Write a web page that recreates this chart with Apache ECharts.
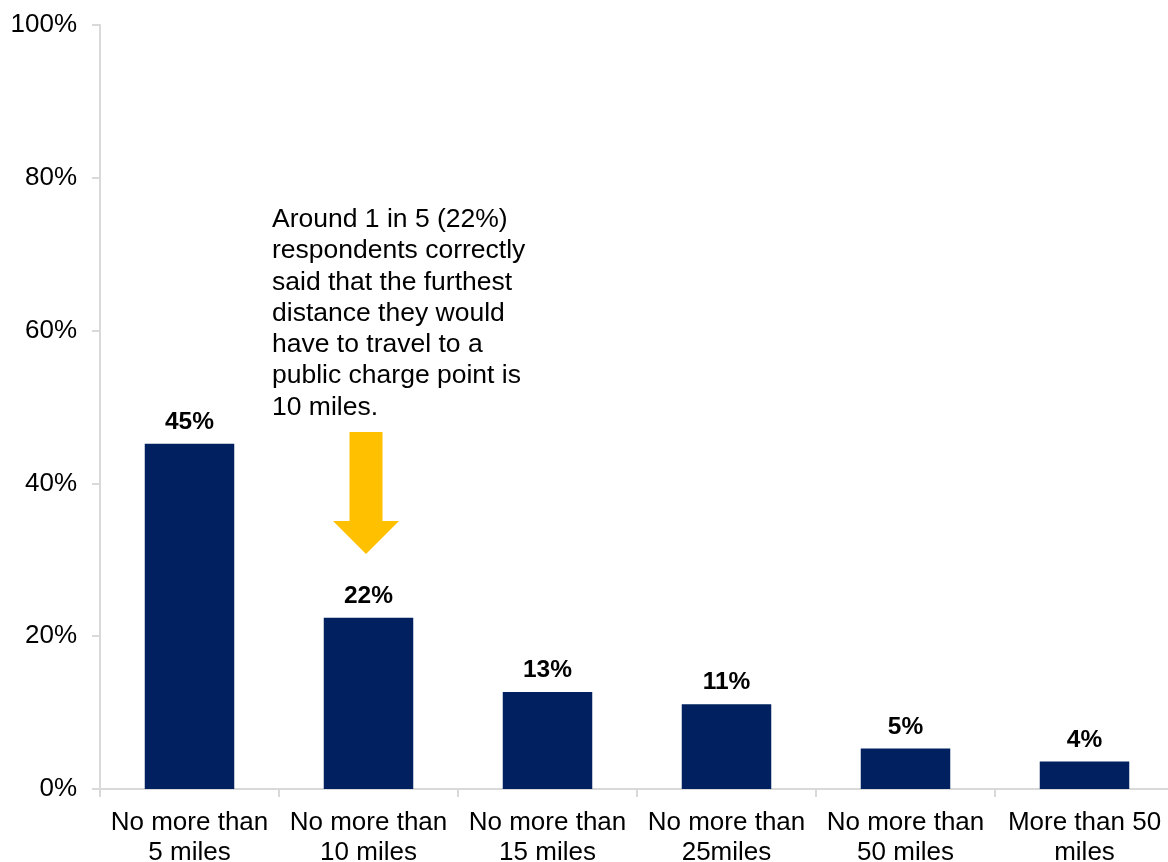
<!DOCTYPE html>
<html>
<head>
<meta charset="utf-8">
<script src="https://cdn.jsdelivr.net/npm/echarts@6/dist/echarts.min.js"></script>
<style>
  html, body { margin: 0; padding: 0; background: #fff; }
  #chart { width: 1168px; height: 862px; }
</style>
</head>
<body>
<div id="chart"></div>
<script>
// categories and values
const categories = [
  'No more than\n5 miles',
  'No more than\n10 miles',
  'No more than\n15 miles',
  'No more than\n25miles',
  'No more than\n50 miles',
  'More than 50\nmiles'
]
const shares = [45.2, 22.4, 12.7, 11.1, 5.3, 3.6]
const yTicks = [0, 20, 40, 60, 80, 100]

const annotation = [
  'Around 1 in 5 (22%)',
  'respondents correctly',
  'said that the furthest',
  'distance they would',
  'have to travel to a',
  'public charge point is',
  '10 miles.'
].join('\n')

const font = 'Arial, "Liberation Sans", sans-serif'
const axisGrey = '#d9d9d9'

const chart = echarts.init(document.getElementById('chart'))

// 注释箭头（黄色）
const arrowX = 366
const arrow = {
  type: 'polygon',
  shape: {
    points: [
      [arrowX - 16.5, 432], [arrowX + 16.5, 432], [arrowX + 16.5, 521],
      [arrowX + 33, 521], [arrowX, 554], [arrowX - 33, 521], [arrowX - 16.5, 521]
    ]
  },
  style: { fill: '#FFC000' }
}

chart.setOption({
  animation: false,
  textStyle: { fontFamily: font },
  grid: {
    left: 100, top: 25, width: 1074, height: 764,
    containLabel: false,
    outerBoundsMode: 'none'
  },
  xAxis: {
    type: 'category',
    data: categories,
    axisLine: { lineStyle: { color: axisGrey, width: 2 } },
    axisTick: { show: true, alignWithLabel: false, length: 8, lineStyle: { color: axisGrey, width: 2 } },
    axisLabel: {
      interval: 0,
      color: '#000',
      fontSize: 26,
      lineHeight: 30,
      margin: 19,
      fontFamily: font
    }
  },
  yAxis: {
    type: 'value',
    min: yTicks[0],
    max: yTicks[yTicks.length - 1],
    interval: 20,
    splitLine: { show: false },
    axisLine: { show: true, lineStyle: { color: axisGrey, width: 2 } },
    axisTick: { show: true, length: 8, lineStyle: { color: axisGrey, width: 2 } },
    axisLabel: {
      color: '#000',
      fontSize: 26,
      margin: 23,
      fontFamily: font,
      formatter: (v) => v + '%'
    }
  },
  series: [
    {
      type: 'bar',
      data: shares,
      barWidth: '50%',
      itemStyle: { color: '#002060' },
      label: {
        show: true,
        position: 'top',
        distance: 9,
        color: '#000',
        fontSize: 24.5,
        fontWeight: 'bold',
        fontFamily: font,
        formatter: (p) => Math.round(p.value) + '%'
      }
    }
  ],
  graphic: [
    {
      type: 'text',
      left: 272,
      top: 204,
      style: {
        text: annotation,
        font: '26.5px ' + font,
        lineHeight: 31.3,
        fill: '#000'
      }
    },
    arrow
  ]
})
</script>
</body>
</html>
